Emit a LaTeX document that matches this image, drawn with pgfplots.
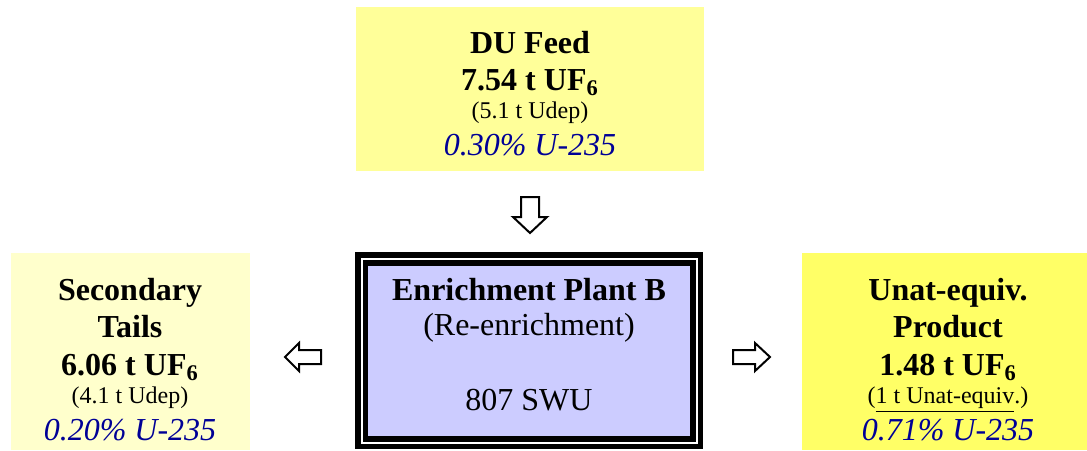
\documentclass[border=0pt]{standalone}
\usepackage{pgfplots}
\pgfplotsset{compat=1.18}
\usepackage{fontspec}
\setmainfont{Liberation Serif}

\definecolor{feedyellow}{RGB}{255,255,153}
\definecolor{tailsyellow}{RGB}{255,255,204}
\definecolor{prodyellow}{RGB}{255,255,102}
\definecolor{plantblue}{RGB}{204,204,255}
\definecolor{assayblue}{RGB}{0,0,150}

\newcommand{\lrg}{\fontsize{16}{19}\selectfont}
\newcommand{\sml}{\fontsize{12}{14}\selectfont}
\tikzset{lbl/.style={anchor=base, inner sep=0pt, outer sep=0pt}}

\begin{document}
\begin{tikzpicture}
\begin{axis}[
    scale only axis,
    width=543.5pt, height=225pt,
    xmin=0, xmax=1087, ymin=0, ymax=450,
    y dir=reverse,
    hide axis,
    clip=false,
]
% keep the page the size of the axis
\path (0,0) rectangle (1087,450);

% boxes
\fill[feedyellow] (356,7) rectangle (704,171);
\fill[tailsyellow] (11,253) rectangle (250,450);
\fill[prodyellow] (802,253) rectangle (1087,450);
% plant box with double black frame
\fill[black] (355,252) rectangle (703,449);
\fill[white] (361,258) rectangle (698,444);
\fill[black] (363,260) rectangle (696,442);
\fill[plantblue] (368,266) rectangle (690,436);

% block arrows
\draw[line width=1pt, fill=white] (521,197) -- (539,197) -- (539,217) -- (547,217)
    -- (530,233) -- (513,217) -- (521,217) -- cycle;
\draw[line width=1pt, fill=white] (321,350) -- (299,350) -- (299,343) -- (285,357)
    -- (299,371) -- (299,364) -- (321,364) -- cycle;
\draw[line width=1pt, fill=white] (733,350) -- (755,350) -- (755,343) -- (770,357)
    -- (755,371) -- (755,364) -- (733,364) -- cycle;

% DU feed
\node[lbl] at (530,53) {\lrg\bfseries DU Feed};
\node[lbl] at (530,90) {\lrg\bfseries 7.54 t UF\textsubscript{6}};
\node[lbl] at (530,118) {\sml (5.1 t Udep)};
\node[lbl] at (530,155) {\lrg\itshape\color{assayblue} 0.30\% U-235};

% secondary tails
\node[lbl] at (130,300) {\lrg\bfseries Secondary};
\node[lbl] at (130,337) {\lrg\bfseries Tails};
\node[lbl] at (130,375) {\lrg\bfseries 6.06 t UF\textsubscript{6}};
\node[lbl] at (130,403) {\sml (4.1 t Udep)};
\node[lbl] at (130,440) {\lrg\itshape\color{assayblue} 0.20\% U-235};

% enrichment plant
\node[lbl] at (529,300) {\lrg\bfseries Enrichment Plant B};
\node[lbl] at (529,335) {\lrg (Re-enrichment)};
\node[lbl] at (529,410) {\lrg 807 SWU};

% product
\node[lbl] at (948,300) {\lrg\bfseries Unat-equiv.};
\node[lbl] at (948,337) {\lrg\bfseries Product};
\node[lbl] at (948,375) {\lrg\bfseries 1.48 t UF\textsubscript{6}};
\node[lbl] at (948,403) {\sml (\underline{1 t Unat-equiv}.)};
\node[lbl] at (948,440) {\lrg\itshape\color{assayblue} 0.71\% U-235};
\end{axis}
\end{tikzpicture}
\end{document}
